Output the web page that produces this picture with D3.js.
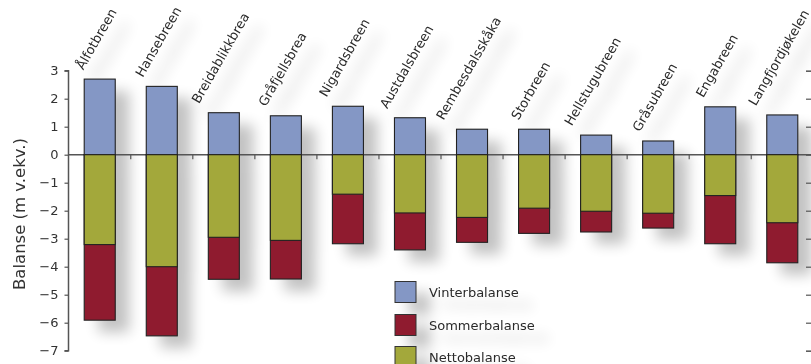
<!DOCTYPE html>
<html><head><meta charset="utf-8">
<script src="https://cdn.jsdelivr.net/npm/d3@7/dist/d3.min.js"></script>
<style>
html,body{margin:0;padding:0;background:#fff;}
svg{display:block;font-family:"DejaVu Sans",sans-serif;}
</style></head>
<body>
<svg id="chart" width="811" height="364"></svg>
<script>
const categories = ["Ålfotbreen","Hansebreen","Breidablikkbrea","Gråfjellsbrea","Nigardsbreen","Austdalsbreen","Rembesdalsskåka","Storbreen","Hellstugubreen","Gråsubreen","Engabreen","Langfjordjøkelen"];
const vinterbalanse = [2.70, 2.44, 1.50, 1.39, 1.73, 1.32, 0.91, 0.91, 0.70, 0.49, 1.71, 1.42];
const sommerbalanse = [-5.91, -6.47, -4.45, -4.44, -3.18, -3.40, -3.13, -2.81, -2.76, -2.62, -3.18, -3.86];
const nettobalanse  = [-3.21, -4.00, -2.95, -3.06, -1.41, -2.08, -2.24, -1.91, -2.02, -2.09, -1.46, -2.43];
const yTicks = [3,2,1,0,-1,-2,-3,-4,-5,-6,-7];
const legendLabels = ["Vinterbalanse","Sommerbalanse","Nettobalanse"];
const yTitle = "Balanse (m v.ekv.)";

const colors = {v:"#8497c5", s:"#8f1b2f", n:"#a3a83b"};
const svg = d3.select("#chart");
const defs = svg.append("defs");
const f = defs.append("filter").attr("id","sh").attr("x","-50%").attr("y","-50%").attr("width","200%").attr("height","200%");
f.append("feGaussianBlur").attr("in","SourceAlpha").attr("stdDeviation",7).attr("result","b");
f.append("feOffset").attr("in","b").attr("dx",14).attr("dy",12).attr("result","o");
f.append("feComponentTransfer").attr("in","o").attr("result","c").append("feFuncA").attr("type","linear").attr("slope",0.24);
const fm = f.append("feMerge");
fm.append("feMergeNode").attr("in","c");

const x = d3.scaleBand().domain(categories).range([68.7, 813.3]).paddingInner(0.5).paddingOuter(0.25);
const y = d3.scaleLinear().domain([-7, 3]).range([350.7, 70.7]);

const data = categories.map((c,i)=>({c, v:vinterbalanse[i], s:sommerbalanse[i], n:nettobalanse[i]}));

const shadow = svg.append("g").attr("filter","url(#sh)");
const main = svg.append("g");

function drawBars(g, withStroke){
  const bg = g.append("g");
  bg.selectAll("rect.v").data(data).join("rect")
    .attr("x", d=>x(d.c)).attr("width", x.bandwidth())
    .attr("y", d=>y(d.v)).attr("height", d=>y(0)-y(d.v))
    .attr("fill", colors.v);
  bg.selectAll("rect.s").data(data).join("rect")
    .attr("x", d=>x(d.c)).attr("width", x.bandwidth())
    .attr("y", y(0)).attr("height", d=>y(d.s)-y(0))
    .attr("fill", colors.s);
  bg.selectAll("rect.n").data(data).join("rect")
    .attr("x", d=>x(d.c)).attr("width", x.bandwidth())
    .attr("y", y(0)).attr("height", d=>y(d.n)-y(0))
    .attr("fill", colors.n);
  if(withStroke) bg.selectAll("rect").attr("stroke","#222").attr("stroke-width",1.1);
}

function drawLabels(g){
  const lg = g.append("g").attr("font-size",13).attr("fill","#2a2a2a");
  lg.selectAll("text").data(data).join("text")
    .text(d=>d.c)
    .each(function(d){
      const L = this.getComputedTextLength();
      const cx = x(d.c) + x.bandwidth()/2;
      const ax = cx - 0.25*L + 0.5;
      const ay = y(d.v) - 8.5;
      d3.select(this).attr("transform", `translate(${ax},${ay}) rotate(-60)`);
    });
}

function drawLegend(g, withText){
  const lg = g.append("g");
  const rows = [281.5, 314.5, 346.5];
  ["v","s","n"].forEach((k,i)=>{
    const yy = rows[i];
    lg.append("rect").attr("x",395).attr("y",yy).attr("width",21).attr("height",21)
      .attr("fill",colors[k]).attr("stroke","#333").attr("stroke-width",1);
    if(withText) lg.append("text").attr("x",429).attr("y",yy+15).attr("font-size",13).attr("fill","#2a2a2a").text(legendLabels[i]);
  });
}

drawBars(shadow,false);
drawLabels(shadow);
drawLegend(shadow,true);

const axisColor = "#555";
const ax = main.append("g");
const yAxis = d3.axisLeft(y).tickValues(yTicks).tickSize(4).tickPadding(6).tickFormat(d3.format("d"));
const gy = ax.append("g").attr("transform","translate(68.5,0)").call(yAxis);
gy.select(".domain").attr("stroke",axisColor).attr("stroke-width",1.5).attr("d", `M-4,${y(3)}H0V${y(-7)}H-4`);
gy.selectAll(".tick line").attr("stroke",axisColor).attr("stroke-width",1.2);
gy.selectAll(".tick text").attr("font-size",13).attr("fill","#333").attr("font-family","DejaVu Sans");

const gr = ax.append("g").attr("transform","translate(812,0)").call(d3.axisLeft(y).tickValues(yTicks).tickSize(6).tickFormat(""));
gr.selectAll(".tick line").attr("stroke",axisColor).attr("stroke-width",1.2);
gr.select(".domain").attr("stroke",axisColor);

const bounds = d3.range(categories.length+1).map(i=>x.range()[0] + i*x.step());
ax.append("line").attr("x1",68.5).attr("x2",811).attr("y1",y(0)).attr("y2",y(0)).attr("stroke",axisColor).attr("stroke-width",1.5);
ax.selectAll("line.bt").data(bounds.slice(1,-1)).join("line")
  .attr("x1",d=>d).attr("x2",d=>d).attr("y1",y(0)).attr("y2",y(0)+4.5)
  .attr("stroke",axisColor).attr("stroke-width",1.2);

drawBars(main,true);
drawLabels(main);
drawLegend(main,true);

main.append("text").attr("transform",`translate(25,${214}) rotate(-90)`)
  .attr("text-anchor","middle").attr("font-size",16.5).attr("fill","#333").text(yTitle);
</script>
</body></html>
